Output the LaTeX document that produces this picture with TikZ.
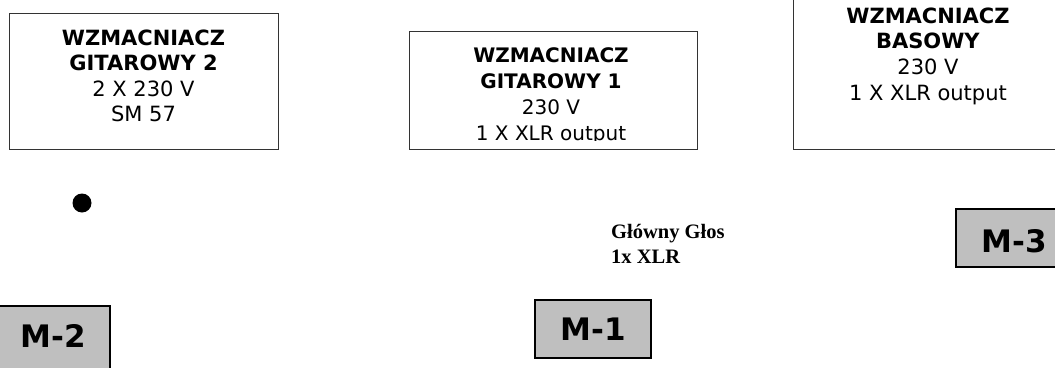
\documentclass[tikz,border=0pt]{standalone}
\usepackage{fontspec}
\newfontfamily\verd{DejaVu Sans}
\newfontfamily\tms{Liberation Serif}
\newcommand{\topstrut}{\rule{0pt}{0.8em}}
\begin{document}
\begin{tikzpicture}[x=1pt,y=-1pt,
  ampbox/.style={draw=black!80, line width=1pt, fill=none, inner sep=0pt, outer sep=0pt},
  mbox/.style={draw=black, line width=1.6pt, fill=black!25, inner sep=0pt, outer sep=0pt},
  amptext/.style={inner sep=0pt, anchor=north, align=center},
  mlabel/.style={inner sep=0pt, anchor=base, font=\verd\bfseries\fontsize{31pt}{36pt}\selectfont},
  dotstyle/.style={circle, fill=black, minimum size=19pt, inner sep=0pt}
]
\useasboundingbox (0,0) rectangle (1055,367);
\clip (0,0) rectangle (1055,367);
\fill[white] (0,0) rectangle (1055,367);

% amplifier boxes
\node[ampbox, minimum width=269pt, minimum height=136pt] (boxA) at (143.5,81) {};
\node[ampbox, minimum width=288pt, minimum height=118pt] (boxB) at (553,90) {};
\node[ampbox, minimum width=270pt, minimum height=179pt] (boxC) at (928,59.5) {};

\node[amptext, font=\verd\fontsize{21pt}{25.4pt}\selectfont] (tA) at (143.5,28.2)
  {\topstrut\textbf{WZMACNIACZ}\\\textbf{GITAROWY 2}\\2 X 230 V\\SM 57};

\begin{scope}
\clip (410,32) rectangle (696,140.8);
\node[amptext, font=\verd\fontsize{20pt}{26pt}\selectfont] (tB) at (551,46)
  {\topstrut\textbf{WZMACNIACZ}\\\textbf{GITAROWY 1}\\230 V\\1 X XLR output};
\end{scope}

\node[amptext, font=\verd\fontsize{21pt}{25.7pt}\selectfont] (tC) at (928,6.2)
  {\topstrut\textbf{WZMACNIACZ}\\\textbf{BASOWY}\\230 V\\1 X XLR output};

% dot
\node[dotstyle] (dot) at (82,203) {};

% vocal label
\node[inner sep=0pt, anchor=north west, align=left,
  font=\tms\bfseries\fontsize{20.5pt}{25pt}\selectfont] (glos) at (611,221.6)
  {\topstrut Główny Głos\\1x XLR};

% microphone boxes
\node[mbox, minimum width=114pt, minimum height=64pt] (m2box) at (53,338) {};
\node[mlabel] (m2) at (53,347) {M-2};
\node[mbox, minimum width=116pt, minimum height=58pt] (m1box) at (593,329) {};
\node[mlabel] (m1) at (593,340) {M-1};
\node[mbox, minimum width=117pt, minimum height=58pt] (m3box) at (1014.5,238) {};
\node[mlabel] (m3) at (1014.5,252) {M-3};
\end{tikzpicture}
\end{document}
